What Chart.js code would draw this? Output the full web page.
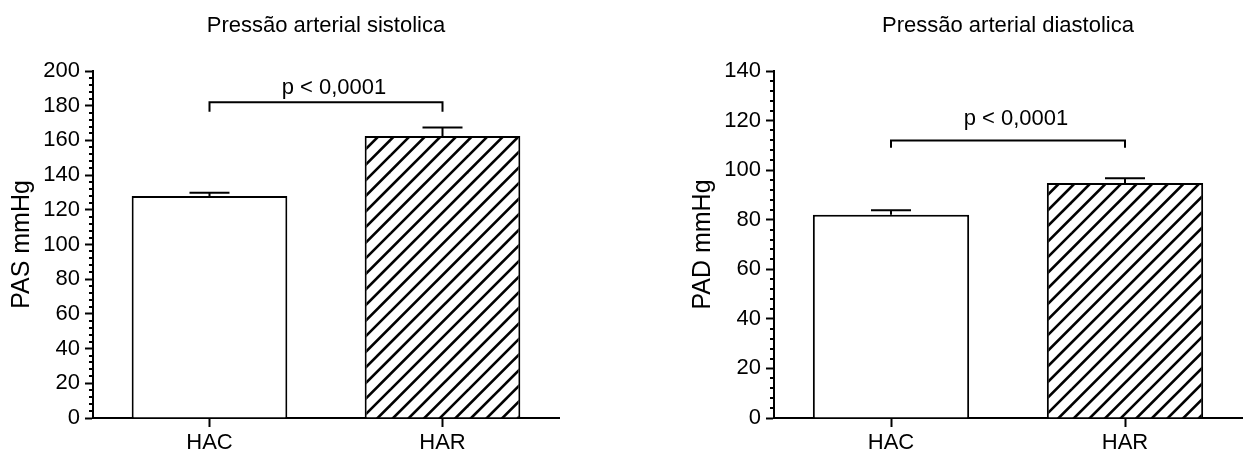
<!DOCTYPE html>
<html><head><meta charset="utf-8">
<script src="https://cdn.jsdelivr.net/npm/chart.js@4.4.1/dist/chart.umd.min.js"></script>
<style>
html,body{margin:0;padding:0;background:#fff;width:1246px;height:457px;overflow:hidden}
.box{position:absolute;top:0;height:457px}
#b1{left:0;width:600px}
#b2{left:681px;width:565px}
</style></head><body>
<div class="box" id="b1"><canvas id="c1"></canvas></div>
<div class="box" id="b2"><canvas id="c2"></canvas></div>
<script>
// ---- data ----
const categories = ['HAC', 'HAR'];
const pasMeans = [128, 162.5];
const pasErrors = [1.8, 5.0];
const padMeans = [82, 94.8];
const padErrors = [1.8, 1.9];
const pasTitle = 'Pressão arterial sistolica';
const padTitle = 'Pressão arterial diastolica';
const pasAxisTitle = 'PAS mmHg';
const padAxisTitle = 'PAD mmHg';
const pasAxisRange = [0, 200, 20, 4];   // min, max, major step, minor step
const padAxisRange = [0, 140, 20, 4];
const pasBracket = [182, 176.5, 186.6]; // bracket level, leg end, label baseline (axis units)
const padBracket = [112, 109, 118.2];
const pLabel = 'p < 0,0001';

const FAMILY = '"Liberation Sans", Arial, Helvetica, sans-serif';
const FS = 22;

function makeHatch() {
  const d = 15.6, n = 5, T = Math.round(d * n);
  const c = document.createElement('canvas');
  c.width = T; c.height = T;
  const g = c.getContext('2d');
  g.fillStyle = '#fff'; g.fillRect(0, 0, T, T);
  g.strokeStyle = '#000'; g.lineWidth = 2.6;
  for (let k = -1; k <= 2 * n + 1; k++) {
    const cc = k * d;
    g.beginPath();
    g.moveTo(-5, cc + 5);
    g.lineTo(T + 5, cc - T - 5);
    g.stroke();
  }
  return document.getElementById('c1').getContext('2d').createPattern(c, 'repeat');
}

const annot = {
  id: 'annot',
  afterDraw(chart, args, o) {
    const ctx = chart.ctx, xs = chart.scales.x, ys = chart.scales.y, ca = chart.chartArea;
    ctx.save();
    ctx.strokeStyle = '#000';
    ctx.lineWidth = 2;
    // minor ticks
    const [mn, mx, st, mi] = o.range;
    for (let v = mn; v <= mx; v += mi) {
      if (v % st === 0) continue;
      const py = Math.round(ys.getPixelForValue(v));
      ctx.beginPath(); ctx.moveTo(ca.left - 4, py); ctx.lineTo(ca.left, py); ctx.stroke();
    }
    // error bars (upper only)
    const meta = chart.getDatasetMeta(0);
    meta.data.forEach((bar, i) => {
      const top = ys.getPixelForValue(o.means[i] + o.errors[i]);
      ctx.beginPath();
      ctx.moveTo(bar.x, bar.y); ctx.lineTo(bar.x, top);
      ctx.moveTo(bar.x - 20, top); ctx.lineTo(bar.x + 20, top);
      ctx.stroke();
    });
    // significance bracket
    const x0 = xs.getPixelForValue(0), x1 = xs.getPixelForValue(1);
    const yb = ys.getPixelForValue(o.bracket[0]), yl = ys.getPixelForValue(o.bracket[1]);
    ctx.beginPath();
    ctx.moveTo(x0, yl); ctx.lineTo(x0, yb); ctx.lineTo(x1, yb); ctx.lineTo(x1, yl);
    ctx.stroke();
    ctx.fillStyle = '#000';
    ctx.font = FS + 'px ' + FAMILY;
    ctx.textAlign = 'center';
    ctx.textBaseline = 'alphabetic';
    ctx.fillText(o.label, (x0 + x1) / 2 + 8, ys.getPixelForValue(o.bracket[2]));
    // chart title
    ctx.fillText(o.title, (ca.left + ca.right) / 2, 32);
    ctx.restore();
  }
};

function build(id, means, errors, range, title, axisTitle, bracket, padRight, hatch) {
  return new Chart(document.getElementById(id), {
    type: 'bar',
    data: {
      labels: categories,
      datasets: [{
        data: means,
        backgroundColor: ['#ffffff', hatch],
        borderColor: '#000',
        borderWidth: 2,
        borderSkipped: 'start',
        categoryPercentage: 1,
        barPercentage: 0.668
      }]
    },
    options: {
      responsive: true,
      maintainAspectRatio: false,
      animation: false,
      devicePixelRatio: 1,
      layout: { padding: { top: 71, right: padRight, bottom: 0, left: 0 } },
      plugins: {
        legend: { display: false },
        tooltip: { enabled: false },
        title: { display: false },
        annot: { means, errors, range, bracket, title, label: pLabel }
      },
      scales: {
        x: {
          type: 'category',
          offset: true,
          grid: { display: true, drawOnChartArea: false, drawTicks: true, tickLength: 9, tickColor: '#000', tickWidth: 2, offset: false },
          border: { display: true, color: '#000', width: 2 },
          ticks: { color: '#000', font: { size: FS, family: FAMILY }, padding: 3, maxRotation: 0 },
          afterFit(s) { s.height = 39; }
        },
        y: {
          min: range[0], max: range[1],
          ticks: { stepSize: range[2], color: '#000', font: { size: FS, family: FAMILY }, padding: 5 },
          grid: { display: true, drawOnChartArea: false, drawTicks: true, tickLength: 8, tickColor: '#000', tickWidth: 2 },
          border: { display: true, color: '#000', width: 2 },
          title: { display: true, text: axisTitle, color: '#000', font: { size: 25, family: FAMILY }, padding: { top: 7, bottom: 0 } },
          afterFit(s) { s.width = 93; }
        }
      }
    },
    plugins: [annot]
  });
}

const hatch = makeHatch();
build('c1', pasMeans, pasErrors, pasAxisRange, pasTitle, pasAxisTitle, pasBracket, 41, hatch);
build('c2', padMeans, padErrors, padAxisRange, padTitle, padAxisTitle, padBracket, 4, hatch);
</script>
</body></html>
